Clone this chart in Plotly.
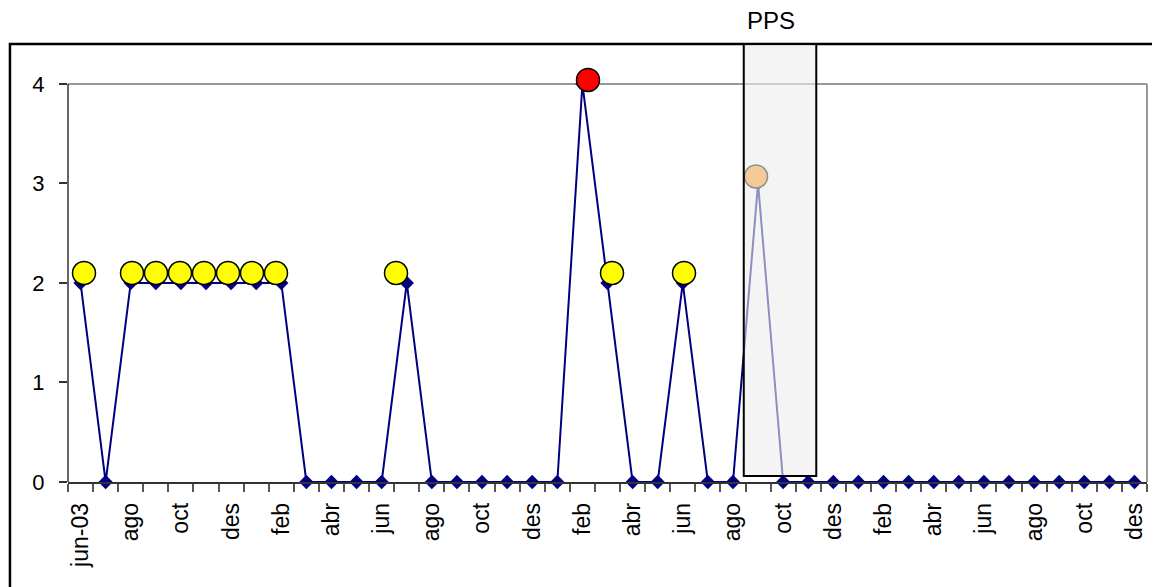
import plotly.graph_objects as go

# Monthly categories jun-03 .. des-06
month_labels = [
    "jun-03", "jul", "ago", "set", "oct", "nov", "des",
    "gen", "feb", "mar", "abr", "mai", "jun", "jul", "ago", "set", "oct", "nov", "des",
    "gen", "feb", "mar", "abr", "mai", "jun", "jul", "ago", "set", "oct", "nov", "des",
    "gen", "feb", "mar", "abr", "mai", "jun", "jul", "ago", "set", "oct", "nov", "des",
]
values = [
    2, 0, 2, 2, 2, 2, 2,
    2, 2, 0, 0, 0, 0, 2, 0, 0, 0, 0, 0,
    0, 4, 2, 0, 0, 2, 0, 0, 3, 0, 0, 0,
    0, 0, 0, 0, 0, 0, 0, 0, 0, 0, 0, 0,
]

# Highlight markers (plotted on a second, slightly offset category axis)
yellow_pos = [0, 2, 3, 4, 5, 6, 7, 8, 13, 22, 25]
yellow_val = [2.1, 2.1, 2.1, 2.1, 2.1, 2.1, 2.1, 2.1, 2.1, 2.1, 2.1]
red_pos = [21]
red_val = [4.04]
orange_pos = [28]
orange_val = [3.07]

y_ticks = [0, 1, 2, 3, 4]
pps_label = "PPS"
pps_start, pps_end = 26.43, 29.32

idx = list(range(len(values)))
tick_idx = idx[::2]
tick_text = month_labels[::2]

FONT = "Liberation Sans, Arial, sans-serif"
NAVY = "#000080"

fig = go.Figure()
fig.add_trace(go.Scatter(
    x=idx, y=values, mode="lines+markers",
    line=dict(color=NAVY, width=2),
    marker=dict(symbol="diamond", size=11, color=NAVY),
    showlegend=False, cliponaxis=False,
))
fig.add_trace(go.Scatter(
    x=yellow_pos, y=yellow_val, xaxis="x2", mode="markers",
    marker=dict(symbol="circle", size=23, color="#FFFF00", line=dict(color="black", width=1.5)),
    showlegend=False, cliponaxis=False,
))
fig.add_trace(go.Scatter(
    x=red_pos, y=red_val, xaxis="x2", mode="markers",
    marker=dict(symbol="circle", size=23, color="#FF0000", line=dict(color="black", width=1.5)),
    showlegend=False, cliponaxis=False,
))
fig.add_trace(go.Scatter(
    x=orange_pos, y=orange_val, xaxis="x2", mode="markers",
    marker=dict(symbol="circle", size=23, color="#FF9A1A", line=dict(color="black", width=1.5)),
    showlegend=False, cliponaxis=False,
))

# figure sits 8px into the page (body margin); plot area in page coords: x 68..1147, y 74..482
PH = 408.0
def py(page_y):
    return (482 - page_y) / PH

fig.update_layout(
    width=1152, height=579,
    margin=dict(l=60, r=13, t=66, b=105),
    paper_bgcolor="white", plot_bgcolor="white",
    font=dict(family=FONT, size=22, color="black"),
    xaxis=dict(
        range=[-0.5, len(values) - 0.5],
        tickmode="array", tickvals=tick_idx, ticktext=tick_text,
        tickangle=-90, ticks="outside", ticklen=0, tickcolor="#333",
        showgrid=False, zeroline=False,
        showline=True, linecolor="#333", linewidth=1.5,
        ticklabelstandoff=10,
        minor=dict(tickmode="linear", tick0=-0.5, dtick=1, ticks="outside",
                   ticklen=8, tickcolor="#555", tickwidth=1.5),
        tickfont=dict(size=23),
    ),
    xaxis2=dict(
        overlaying="x", range=[-0.667, 44.29], visible=False,
    ),
    yaxis=dict(
        range=[0, 4.1], tickmode="array", tickvals=y_ticks,
        ticks="outside", ticklen=8, tickcolor="#333", tickwidth=1.5,
        showgrid=False, zeroline=False, showline=False,
        ticklabelstandoff=10,
        tickfont=dict(size=22),
    ),
    shapes=[
        # plot area border top & right (grey)
        dict(type="line", xref="paper", yref="y", x0=0, x1=1, y0=4, y1=4,
             line=dict(color="#999999", width=2), layer="below"),
        dict(type="line", xref="paper", yref="y", x0=1, x1=1, y0=0, y1=4,
             line=dict(color="#999999", width=2), layer="below"),
        # y axis line
        dict(type="line", xref="paper", yref="y", x0=0, x1=0, y0=0, y1=4,
             line=dict(color="#333", width=1.5), layer="below"),
        # outer chart border (extends past image edges)
        dict(type="rect", xref="paper", yref="paper", x0=-0.0538, x1=1.3, y0=-0.6, y1=py(44),
             line=dict(color="black", width=2.5), fillcolor="rgba(0,0,0,0)", layer="above"),
        # PPS box
        dict(type="rect", xref="x", yref="paper", x0=pps_start, x1=pps_end, y0=py(476), y1=py(44),
             line=dict(color="black", width=2), fillcolor="rgba(236,236,236,0.6)", layer="above"),
    ],
    annotations=[
        dict(text=pps_label, xref="x", yref="paper", x=27.53, y=py(20),
             showarrow=False, xanchor="center", yanchor="middle",
             font=dict(size=24, family=FONT, color="black")),
    ],
)

fig.write_html("out.html")
